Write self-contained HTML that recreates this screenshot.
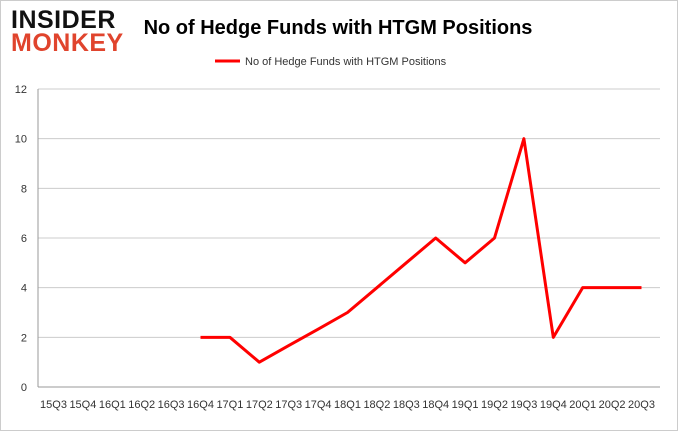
<!DOCTYPE html>
<html><head><meta charset="utf-8"><style>
body{margin:0;background:#fff;}
svg{display:block;font-family:"Liberation Sans",sans-serif;}
</style></head><body>
<svg id="c" width="678" height="431">
<rect x="0.5" y="0.5" width="677" height="430" fill="#fff" stroke="#ccc"/>
<text x="11" y="28" font-size="25" font-weight="900" fill="#111" letter-spacing="0.5">INSIDER</text>
<text x="11" y="51" font-size="25" font-weight="900" fill="#e0442d" letter-spacing="0.5">MONKEY</text>
<text x="338" y="34" font-size="20" font-weight="bold" text-anchor="middle" fill="#000">No of Hedge Funds with HTGM Positions</text>
<line x1="215" y1="61" x2="240" y2="61" stroke="#f00" stroke-width="3"/>
<text x="245" y="65" font-size="11" fill="#333">No of Hedge Funds with HTGM Positions</text>
<g id="grid"></g><g id="xl"></g>
<polyline id="ln" fill="none" stroke="#f00" stroke-width="3" stroke-linejoin="round"/>
</svg>
<script>
const categories=["15Q3","15Q4","16Q1","16Q2","16Q3","16Q4","17Q1","17Q2","17Q3","17Q4","18Q1","18Q2","18Q3","18Q4","19Q1","19Q2","19Q3","19Q4","20Q1","20Q2","20Q3"];
const values=[null,null,null,null,null,2,2,1,1.67,2.33,3,4,5,6,5,6,10,2,4,4,4];
const yTicks=[0,2,4,6,8,10,12];
const ns="http://www.w3.org/2000/svg";
const L=38,R=660,T=89,B=387;
const xs=i=>53.5+i*29.4;
const ys=v=>B-(v/12)*(B-T);
const g=document.getElementById('grid'),xl=document.getElementById('xl');
yTicks.forEach(t=>{
 const l=document.createElementNS(ns,'line');
 
 
 l.setAttribute('x1',L);l.setAttribute('x2',R);l.setAttribute('y1',ys(t));l.setAttribute('y2',ys(t));
 l.setAttribute('stroke',t===0?'#999':'#ccc');g.appendChild(l);
 const tx=document.createElementNS(ns,'text');
 
 
 tx.setAttribute('x',27);tx.setAttribute('y',ys(t)+4);tx.setAttribute('text-anchor','end');tx.setAttribute('font-size','11');tx.setAttribute('fill','#333');
 tx.textContent=t;g.appendChild(tx);
});
const ax=document.createElementNS(ns,'line');


ax.setAttribute('x1',L);ax.setAttribute('x2',L);ax.setAttribute('y1',T);ax.setAttribute('y2',B);ax.setAttribute('stroke','#999');g.appendChild(ax);
categories.forEach((c,i)=>{
 const tx=document.createElementNS(ns,'text');
 
 
 tx.setAttribute('x',xs(i));tx.setAttribute('y',408);tx.setAttribute('text-anchor','middle');tx.setAttribute('font-size','11');tx.setAttribute('fill','#333');
 tx.textContent=c;xl.appendChild(tx);
});
const pts=[];values.forEach((v,i)=>{if(v!==null)pts.push(xs(i)+','+ys(v));});
document.getElementById('ln').setAttribute('points',pts.join(' '));
</script>
</body></html>
